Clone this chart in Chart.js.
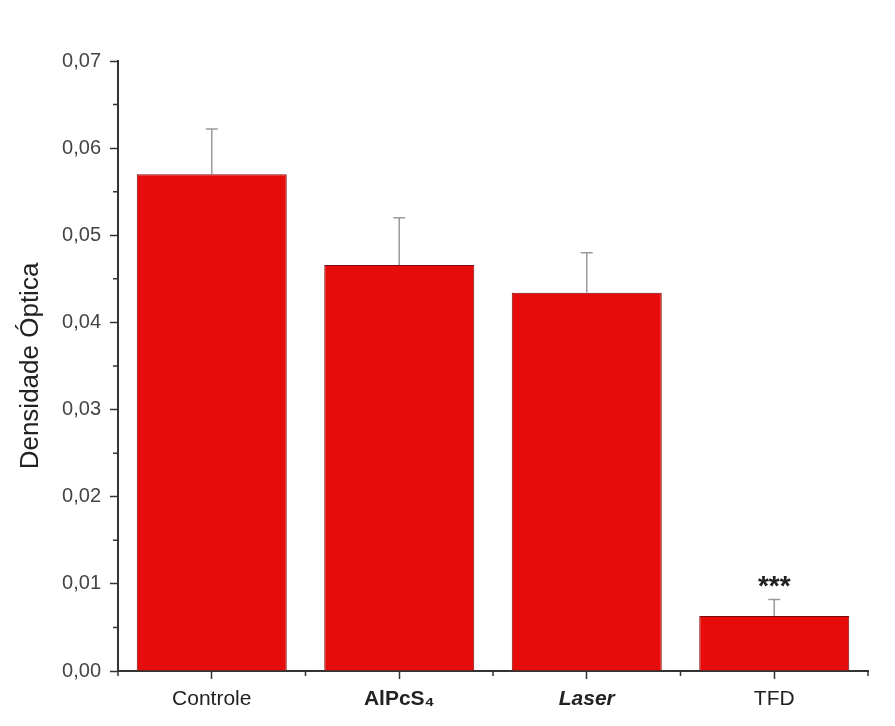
<!DOCTYPE html>
<html>
<head>
<meta charset="utf-8">
<script src="https://cdn.jsdelivr.net/npm/chart.js@4"></script>
<style>
  html, body { margin: 0; padding: 0; background: #fff; }
  #wrap { width: 895px; height: 726px; }
</style>
</head>
<body>
<div id="wrap"><canvas id="densityChart" width="895" height="726"></canvas></div>
<script>
// values
const categories = ["Controle", "AlPcS₄", "Laser", "TFD"];
const means = [0.0570, 0.0466, 0.0434, 0.0063];
const errors = [0.0052, 0.0054, 0.0046, 0.0019];
const marks = ["", "", "", "***"];
const yTicks = [0, 0.01, 0.02, 0.03, 0.04, 0.05, 0.06, 0.07];
const yMinorTicks = [0.005, 0.015, 0.025, 0.035, 0.045, 0.055, 0.065];

const axisColor = "#333";
const fontFamily = "'Liberation Sans', Arial, sans-serif";

// error bars (upper only) + significance stars
const errorBars = {
  id: "errorBars",
  afterDatasetsDraw(chart) {
    const { ctx, scales } = chart;
    const meta = chart.getDatasetMeta(0);
    ctx.save();
    meta.data.forEach((bar, i) => {
      const x = bar.x;
      const yTop = scales.y.getPixelForValue(means[i] + errors[i]);
      const yBase = scales.y.getPixelForValue(means[i]);
      ctx.strokeStyle = "#9a9a9a";
      ctx.lineWidth = 1.5;
      ctx.beginPath();
      ctx.moveTo(x, yBase);
      ctx.lineTo(x, yTop);
      ctx.moveTo(x - 6, yTop);
      ctx.lineTo(x + 6, yTop);
      ctx.stroke();
      if (marks[i]) {
        ctx.fillStyle = "#222";
        ctx.font = "bold 28px " + fontFamily;
        ctx.textAlign = "center";
        ctx.textBaseline = "middle";
        ctx.fillText(marks[i], x, yTop - 12);
      }
    });
    ctx.restore();
  },
};

// minor ticks: half steps on y, category boundaries on x
const minorTicks = {
  id: "minorTicks",
  afterDraw(chart) {
    const { ctx, scales, chartArea } = chart;
    ctx.save();
    ctx.strokeStyle = axisColor;
    ctx.lineWidth = 1.5;
    ctx.beginPath();
    yMinorTicks.forEach((v) => {
      const y = scales.y.getPixelForValue(v);
      ctx.moveTo(chartArea.left - 5, y);
      ctx.lineTo(chartArea.left, y);
    });
    for (let i = 0; i <= categories.length; i++) {
      const x = scales.x.getPixelForValue(i - 0.5);
      ctx.moveTo(x, chartArea.bottom);
      ctx.lineTo(x, chartArea.bottom + 5);
    }
    ctx.stroke();
    ctx.restore();
  },
};

const tickFont = (ctx) => {
  const base = { family: fontFamily, size: 21 };
  if (ctx.index === 1) return { ...base, weight: "bold" };
  if (ctx.index === 2) return { ...base, weight: "bold", style: "italic" };
  return base;
};

new Chart(document.getElementById("densityChart"), {
  type: "bar",
  data: {
    labels: categories,
    datasets: [
      {
        data: means,
        backgroundColor: "#e60c0c",
        borderColor: "#7a0a0a",
        borderWidth: 1,
        barPercentage: 0.8,
        categoryPercentage: 1,
      },
    ],
  },
  plugins: [errorBars, minorTicks],
  options: {
    responsive: false,
    animation: false,
    layout: { padding: { top: 61, right: 27, left: 0, bottom: 0 } },
    plugins: { legend: { display: false }, tooltip: { enabled: false } },
    scales: {
      x: {
        grid: {
          display: true,
          drawOnChartArea: false,
          offset: false,
          tickLength: 8,
          tickColor: axisColor,
          tickWidth: 1.5,
        },
        border: { color: axisColor, width: 2 },
        ticks: {
          color: "#222",
          padding: 8,
          font: tickFont,
        },
        afterFit(scale) {
          scale.height = 55;
        },
      },
      y: {
        min: 0,
        max: 0.07,
        afterBuildTicks(scale) {
          scale.ticks = yTicks.map((v) => ({ value: v }));
        },
        grid: {
          drawOnChartArea: false,
          tickLength: 8,
          tickColor: axisColor,
          tickWidth: 1.5,
        },
        border: { color: axisColor, width: 2 },
        ticks: {
          color: "#444",
          padding: 9,
          font: { family: fontFamily, size: 20 },
          callback: (v) => v.toFixed(2).replace(".", ","),
        },
        title: {
          display: true,
          text: "Densidade Óptica",
          color: "#222",
          font: { family: fontFamily, size: 26 },
          padding: { top: 15, bottom: 0 },
        },
        afterFit(scale) {
          scale.width = 118;
        },
      },
    },
  },
});
</script>
</body>
</html>
